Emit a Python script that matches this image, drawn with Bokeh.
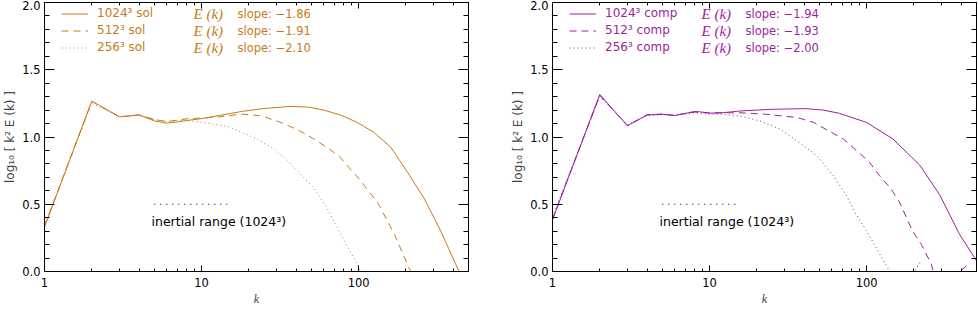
from bokeh.plotting import figure
from bokeh.layouts import row
from bokeh.models import (LogAxis, LinearAxis, Range1d, Legend, LegendItem, Label,
                          FixedTicker, SingleIntervalTicker, NumeralTickFormatter,
                          PrintfTickFormatter, CustomJSTickFormatter)
from bokeh.embed import file_html
from bokeh.resources import INLINE

# ---------------- data: log10[k^2 E(k)] vs k ----------------
sol1024_k = [1, 2, 3, 4, 5, 6, 7, 8, 10, 13, 18, 25, 37, 48, 60, 78, 98, 125, 160, 204, 261, 333, 435, 512]
sol1024_y = [0.33, 1.267, 1.15, 1.164, 1.12, 1.103, 1.112, 1.122, 1.137, 1.16, 1.19, 1.212, 1.228, 1.222,
             1.20, 1.16, 1.108, 1.034, 0.924, 0.74, 0.544, 0.30, 0.0, -0.25]

sol512_k = [1, 2, 3, 4, 5, 6, 7, 8, 10, 13, 18, 24, 32, 42, 51, 64, 76, 88, 102, 133, 169, 214, 256]
sol512_y = [0.34, 1.265, 1.15, 1.165, 1.13, 1.115, 1.125, 1.135, 1.14, 1.15, 1.17, 1.157, 1.108, 1.047,
            0.99, 0.917, 0.85, 0.765, 0.68, 0.507, 0.275, 0.0, -0.25]

sol256_k = [1, 2, 3, 4, 5, 6, 7, 8, 10, 12, 15, 18, 21.5, 29, 37, 52, 63, 73, 93, 103, 128]
sol256_y = [0.34, 1.25, 1.15, 1.16, 1.13, 1.115, 1.12, 1.125, 1.11, 1.095, 1.075, 1.034, 0.997, 0.91,
            0.80, 0.617, 0.47, 0.324, 0.103, 0.0, -0.3]

comp1024_k = [1, 2, 3, 4, 5, 6, 7, 8, 9, 10, 12, 15.5, 25, 41, 53, 67, 100, 147, 218, 292, 391, 500]
comp1024_y = [0.385, 1.316, 1.083, 1.164, 1.169, 1.16, 1.175, 1.19, 1.185, 1.177, 1.18, 1.193, 1.206,
              1.211, 1.20, 1.176, 1.108, 0.985, 0.79, 0.568, 0.274, 0.08]

comp512_k = [1, 2, 3, 4, 5, 6, 7, 8, 10, 12, 15.5, 23, 36, 46, 57, 71, 86, 104, 120, 142, 161, 196,
             223, 258, 265, 300, 340, 370, 390, 434]
comp512_y = [0.39, 1.31, 1.085, 1.165, 1.17, 1.16, 1.175, 1.185, 1.18, 1.18, 1.18, 1.169, 1.145, 1.108,
             1.047, 0.985, 0.90, 0.814, 0.716, 0.618, 0.52, 0.30, 0.20, 0.054, 0.0, -0.12, -0.15,
             -0.07, 0.0, 0.045]

comp256_k = [1, 2, 3, 4, 5, 6, 7, 8, 10, 12, 15.5, 20.8, 28, 37, 48, 61, 74, 86, 100, 115, 140, 160,
             180, 202, 221]
comp256_y = [0.41, 1.30, 1.09, 1.16, 1.165, 1.16, 1.17, 1.18, 1.17, 1.17, 1.157, 1.12, 1.059, 0.961,
             0.863, 0.716, 0.568, 0.421, 0.30, 0.176, 0.0, -0.12, -0.10, 0.0, 0.08]

inertial_k = [5, 15]
inertial_y = [0.5, 0.5]

sol_names = ["1024³ sol", "512³ sol", "256³ sol"]
comp_names = ["1024³ comp", "512³ comp", "256³ comp"]
sol_slopes = ["−1.86", "−1.91", "−2.10"]
comp_slopes = ["−1.94", "−1.93", "−2.00"]

x_major = [1, 10, 100]
x_minor = [2, 3, 4, 5, 6, 7, 8, 9, 20, 30, 40, 50, 60, 70, 80, 90, 200, 300, 400, 500]

ORANGE = "#c67b1c"
PURPLE = "#9c1f9c"
FONT = "DejaVu Sans"
H = 308
B_TOP, B_BOT, B_LEFT = 2, 34, 44
FH = H - B_TOP - B_BOT
PITCH = 17
DASHES = ["solid", "7 5", "1 3"]


def make_panel(series, color, names, slopes, width, right_border):
    p = figure(x_axis_type="log", x_range=Range1d(1, 500), y_range=Range1d(0, 2),
               width=width, height=H, output_backend="svg", toolbar_location=None,
               min_border_left=B_LEFT, min_border_right=right_border, min_border_top=B_TOP,
               min_border_bottom=B_BOT)
    p.grid.visible = False
    p.outline_line_color = "black"
    p.outline_line_width = 1
    p.background_fill_color = "white"

    xa = p.xaxis[0]
    xa.ticker = FixedTicker(ticks=x_major, minor_ticks=x_minor)
    xa.formatter = NumeralTickFormatter(format="0")
    xa.axis_label = "k"
    xa.axis_label_text_font = "Liberation Serif"
    xa.axis_label_text_font_style = "italic"
    xa.axis_label_text_font_size = "12px"
    xa.axis_label_standoff = 2

    ya = p.yaxis[0]
    ya.ticker = SingleIntervalTicker(interval=0.5, num_minor_ticks=5)
    ya.formatter = PrintfTickFormatter(format="%.1f")
    ya.axis_label = "log₁₀ [ k² E (k) ]"
    ya.axis_label_text_font = FONT
    ya.axis_label_text_font_style = "normal"
    ya.axis_label_text_font_size = "12px"
    ya.axis_label_standoff = 2

    blank = CustomJSTickFormatter(code="return ''")
    top = LogAxis(ticker=FixedTicker(ticks=x_major, minor_ticks=x_minor), formatter=blank,
                  major_label_text_font_size="1px")
    right = LinearAxis(ticker=SingleIntervalTicker(interval=0.5, num_minor_ticks=5),
                       formatter=blank, major_label_text_font_size="1px")
    p.add_layout(top, "above")
    p.add_layout(right, "right")

    for ax, big, small in ((xa, 6, 3), (top, 6, 3), (ya, 10, 5), (right, 10, 5)):
        ax.major_tick_in = big
        ax.major_tick_out = 0
        ax.minor_tick_in = small
        ax.minor_tick_out = 0
        ax.axis_line_color = "black"
        ax.major_tick_line_color = "black"
        ax.minor_tick_line_color = "black"
    for ax in (xa, ya):
        ax.major_label_text_font = FONT
        ax.major_label_text_font_size = "11.5px"
        ax.major_label_text_color = "black"
    xa.major_label_standoff = 6
    ya.major_label_standoff = 4
    for ax in (top, right):
        ax.major_label_standoff = 0

    renderers = []
    for (k, y), dash in zip(series, DASHES):
        r = p.line(k, y, line_color=color, line_width=1, line_dash=dash)
        renderers.append(r)

    p.line(inertial_k, inertial_y, line_color="black", line_width=1, line_dash="1 5")
    p.add_layout(Label(x=4.8, y=0.375, text="inertial range (1024³)", text_font=FONT,
                       text_font_size="12.5px", text_color="black", text_baseline="middle"))

    leg_h = 3 * PITCH
    legend = Legend(items=[LegendItem(label=n, renderers=[r]) for n, r in zip(names, renderers)],
                    location=(17, FH - 5.5 - leg_h), glyph_width=27, glyph_height=PITCH,
                    label_height=PITCH, label_standoff=9, spacing=0, padding=0, margin=0,
                    border_line_color=None, background_fill_alpha=0,
                    label_text_font=FONT, label_text_font_size="12px", label_text_color=color)
    p.add_layout(legend)

    for i, s in enumerate(slopes):
        yy = FH - (14 + PITCH * i)
        p.add_layout(Label(x=149, y=yy, x_units="screen", y_units="screen", text="E (k)",
                           text_font="Liberation Serif", text_font_style="italic",
                           text_font_size="15px", text_color=color, text_baseline="middle"))
        p.add_layout(Label(x=193, y=yy, x_units="screen", y_units="screen", text="slope: " + s,
                           text_font=FONT, text_font_size="11.5px", text_color=color,
                           text_baseline="middle"))
    return p


p1 = make_panel([(sol1024_k, sol1024_y), (sol512_k, sol512_y), (sol256_k, sol256_y)],
                ORANGE, sol_names, sol_slopes, 508, 40)
p2 = make_panel([(comp1024_k, comp1024_y), (comp512_k, comp512_y), (comp256_k, comp256_y)],
                PURPLE, comp_names, comp_slopes, 469, 1)

layout = row(p1, p2)
open("out.html", "w").write(file_html(layout, INLINE))
